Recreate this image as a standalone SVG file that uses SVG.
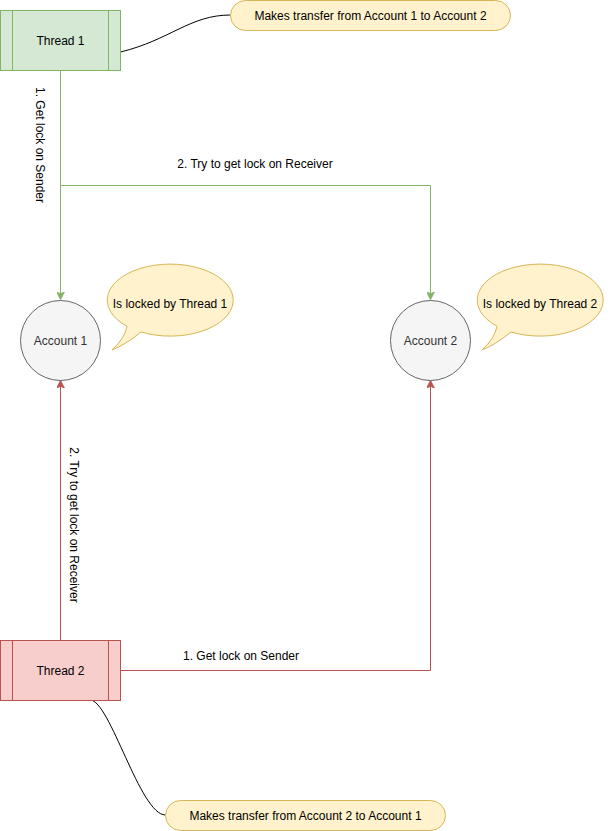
<svg xmlns="http://www.w3.org/2000/svg" width="611" height="831" viewBox="0 0 611 831">
<style>
text{font-family:"Liberation Sans",Arial,sans-serif;font-size:12px;fill:#000;}
.lbl{text-anchor:middle;dominant-baseline:central;}
.g{fill:#d5e8d4;stroke:#82b366;}
.r{fill:#f8cecc;stroke:#b85450;}
.y{fill:#fff2cc;stroke:#d6b656;}
.acc{fill:#f5f5f5;stroke:#666666;}
.accT{fill:#333333;}
.eg{fill:none;stroke:#82b366;}
.er{fill:none;stroke:#b85450;}
.ek{fill:none;stroke:#000;}
</style>
<defs>
<marker id="ag" viewBox="0 0 10 10" refX="9" refY="5" markerWidth="8" markerHeight="8" markerUnits="userSpaceOnUse" orient="auto">
<path d="M0,0 L10,5 L0,10 L2.5,5 Z" fill="#82b366" stroke="#82b366"/>
</marker>
<marker id="ar" viewBox="0 0 10 10" refX="9" refY="5" markerWidth="8" markerHeight="8" markerUnits="userSpaceOnUse" orient="auto">
<path d="M0,0 L10,5 L0,10 L2.5,5 Z" fill="#b85450" stroke="#b85450"/>
</marker>
</defs>
<g id="connectors">
<path class="eg" d="M60.5 70.5 V299" marker-end="url(#ag)"/>
<path class="eg" d="M60.5 185.5 H430.5 V299" marker-end="url(#ag)"/>
<path class="er" d="M60.5 640.5 V381" marker-end="url(#ar)"/>
<path class="er" d="M120.5 670.5 H430.5 V381" marker-end="url(#ar)"/>
<path class="ek" d="M120.5 52 C170 40, 190 15, 230.5 15"/>
<path class="ek" d="M90 700 C110 700, 140 815, 165.5 815"/>
<text class="lbl" transform="translate(40 145) rotate(90)">1. Get lock on Sender</text>
<text class="lbl" x="255" y="164">2. Try to get lock on Receiver</text>
<text class="lbl" transform="translate(74 525) rotate(90)">2. Try to get lock on Receiver</text>
<text class="lbl" x="241" y="656">1. Get lock on Sender</text>
</g>
<g id="thread1">
<rect class="g" x="0.5" y="10.5" width="120" height="60"/>
<path class="g" d="M12.5 10.5 V70.5 M108.5 10.5 V70.5" fill="none"/>
<text class="lbl" x="60.5" y="40.5">Thread 1</text>
</g>
<g id="thread2">
<rect class="r" x="0.5" y="640.5" width="120" height="60"/>
<path class="r" d="M12.5 640.5 V700.5 M108.5 640.5 V700.5" fill="none"/>
<text class="lbl" x="60.5" y="670.5">Thread 2</text>
</g>
<g id="note1">
<rect class="y" x="230.5" y="0.5" width="280" height="30" rx="15" ry="15"/>
<text class="lbl" x="370.5" y="15.5">Makes transfer from Account 1 to Account 2</text>
</g>
<g id="note2">
<rect class="y" x="165.5" y="800.5" width="280" height="30" rx="15" ry="15"/>
<text class="lbl" x="305.5" y="815.5">Makes transfer from Account 2 to Account 1</text>
</g>
<g id="account1">
<circle class="acc" cx="60.5" cy="340.5" r="40"/>
<text class="lbl accT" x="60.5" y="340.5">Account 1</text>
</g>
<g id="account2">
<circle class="acc" cx="430.5" cy="340.5" r="40"/>
<text class="lbl accT" x="430.5" y="340.5">Account 2</text>
</g>
<g id="bubble1">
<path class="y" d="M127 326.3 A63 36 0 1 1 141 332 Q125 345 112 350 Q125 338 127 326.3 Z"/>
<text class="lbl" x="170" y="304">Is locked by Thread 1</text>
</g>
<g id="bubble2">
<path class="y" d="M497 326.3 A63 36 0 1 1 511 332 Q495 345 482 350 Q495 338 497 326.3 Z"/>
<text class="lbl" x="540" y="304">Is locked by Thread 2</text>
</g>
</svg>
